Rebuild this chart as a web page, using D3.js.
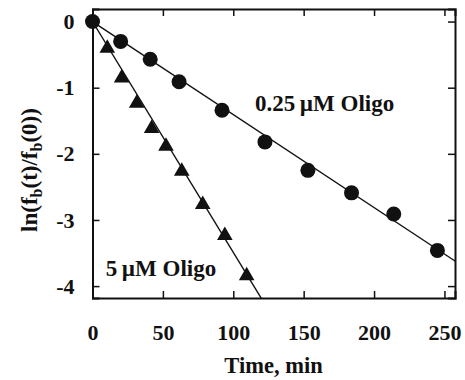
<html>
<head>
<meta charset="utf-8">
<script src="https://cdn.jsdelivr.net/npm/d3@7"></script>
<style>
  body { margin: 0; background: #fff; }
  text { font-family: "Liberation Serif", "Times New Roman", serif; font-weight: bold; fill: #111; }
</style>
</head>
<body>
<svg width="465" height="380"></svg>
<script>
	// 0.25 uM oligo (circles)
	var tLow = [0, 20, 41, 61.5, 92, 122.5, 153, 184, 214, 245];
	var yLow = [0, -0.30, -0.57, -0.91, -1.34, -1.82, -2.25, -2.59, -2.91, -3.46];
	// 5 uM oligo (triangles)
	var tHigh = [10.5, 20.7, 31.4, 42, 52.2, 63.4, 78.3, 94, 109.5];
	var yHigh = [-0.39, -0.84, -1.22, -1.6, -1.87, -2.25, -2.75, -3.22, -3.83];
	// fitted slopes, per min
	var slopeLow = -0.01406, slopeHigh = -0.0349;

	var xTicks = [0, 50, 100, 150, 200, 250];
	var yTicks = [0, -1, -2, -3, -4];

	var pL = 92.5, pR = 455, pT = 9, pB = 298;

	var x = d3.scaleLinear().domain([0, 257.5]).range([pL, pR]);
	var y = d3.scaleLinear().domain([-4.18, 0.19]).range([pB, pT]);

	var svg = d3.select('svg');

	svg.append('clipPath').attr('id', 'clip')
		.append('rect')
		.attr('x', pL).attr('y', pT)
		.attr('width', pR - pL).attr('height', pB - pT);

	// axes, ticks inward
	svg.append('g').attr('transform', 'translate(0,' + pB + ')')
		.call(d3.axisBottom(x).tickValues(xTicks).tickSize(-7).tickPadding(26).tickFormat(String))
		.call(styleAxis);
	svg.append('g').attr('transform', 'translate(0,' + pT + ')')
		.call(d3.axisTop(x).tickValues(xTicks).tickSize(-7).tickFormat(''))
		.call(styleAxis);
	svg.append('g').attr('transform', 'translate(' + pL + ',0)')
		.call(d3.axisLeft(y).tickValues(yTicks).tickSize(-7).tickPadding(18).tickFormat(String))
		.call(styleAxis);
	svg.append('g').attr('transform', 'translate(' + pR + ',0)')
		.call(d3.axisRight(y).tickValues(yTicks).tickSize(-7).tickFormat(''))
		.call(styleAxis);

	function styleAxis(g) {
		g.select('.domain').attr('stroke', '#111').attr('stroke-width', 2);
		g.selectAll('.tick line').attr('stroke', '#111').attr('stroke-width', 1.5);
		g.selectAll('.tick text')
			.style('font-family', '"Liberation Serif", serif')
			.style('font-weight', 'bold')
			.style('font-size', '22px')
			.attr('fill', '#111');
	}

	// fit lines
	var plot = svg.append('g').attr('clip-path', 'url(#clip)');
	var line = d3.line().x(function(d) { return x(d[0]); }).y(function(d) { return y(d[1]); });
	[slopeLow, slopeHigh].forEach(function(k) {
		plot.append('path')
			.attr('d', line([[0, 0], [300, 300 * k]]))
			.attr('fill', 'none')
			.attr('stroke', '#111')
			.attr('stroke-width', 1.4);
	});

	// triangles
	svg.selectAll('path.tri').data(d3.range(tHigh.length))
		.enter().append('path')
		.attr('class', 'tri')
		.attr('d', function(i) {
			var cx = x(tHigh[i]), cy = y(yHigh[i]);
			return 'M' + cx + ',' + (cy - 8) + 'L' + (cx + 7.8) + ',' + (cy + 5.5) + 'L' + (cx - 7.8) + ',' + (cy + 5.5) + 'Z';
		})
		.attr('fill', '#111');

	// circles
	svg.selectAll('circle').data(d3.range(tLow.length))
		.enter().append('circle')
		.attr('cx', function(i) { return x(tLow[i]); })
		.attr('cy', function(i) { return y(yLow[i]); })
		.attr('r', 7.5)
		.attr('fill', '#111');

	// series labels
	svg.append('text').attr('x', 255).attr('y', 111).style('font-size', '23px')
		.text('0.25\u2009\u00b5M Oligo');
	svg.append('text').attr('x', 105.7).attr('y', 276).style('font-size', '23px')
		.text('5\u2009\u00b5M Oligo');

	// axis titles
	svg.append('text').attr('x', 273.5).attr('y', 373)
		.attr('text-anchor', 'middle').style('font-size', '22.5px')
		.text('Time, min');

	var yt = svg.append('text')
		.attr('transform', 'translate(37,170) rotate(-90)')
		.attr('text-anchor', 'middle').style('font-size', '23px');
	yt.append('tspan').text('ln(f');
	yt.append('tspan').attr('dy', 5).style('font-size', '16px').text('b');
	yt.append('tspan').attr('dy', -5).text('(t)/f');
	yt.append('tspan').attr('dy', 5).style('font-size', '16px').text('b');
	yt.append('tspan').attr('dy', -5).text('(0))');
</script>
</body>
</html>
